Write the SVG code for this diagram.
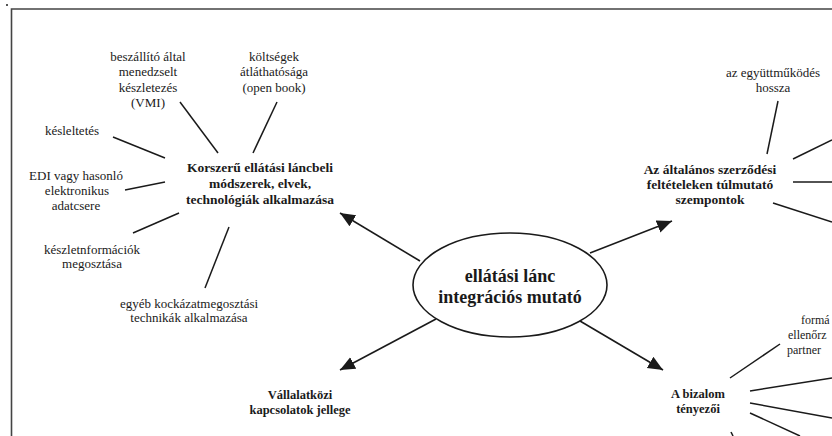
<svg xmlns="http://www.w3.org/2000/svg" width="832" height="436" viewBox="0 0 832 436" font-family="'Liberation Serif', 'Times New Roman', 'DejaVu Serif', serif">
<style>
text{font-family:'Liberation Serif','Times New Roman','DejaVu Serif',serif;fill:#1a1a1a;text-anchor:middle}
.s{font-size:13px}
.p{font-size:12px}
.b{font-size:13.5px;font-weight:bold}
.b2{font-size:12.5px;font-weight:bold}
.c{font-size:18px;font-weight:bold}
.ln{stroke:#1a1a1a;stroke-width:1.5;fill:none}
.ar{stroke:#1a1a1a;stroke-width:1.6;fill:none;marker-end:url(#ah)}
.st{text-anchor:start}
</style>
<defs>
<marker id="ah" markerUnits="userSpaceOnUse" markerWidth="16" markerHeight="14" refX="15" refY="6.5" orient="auto">
<path d="M0,0 L15,6.5 L0,13 Z" fill="#1a1a1a"/>
</marker>
</defs>
<rect width="832" height="436" fill="#fff"/>
<rect x="6" y="4" width="2" height="2" fill="#555"/>
<path d="M11.5,436 V9 H832" fill="none" stroke="#444" stroke-width="1.6"/>

<g id="connectors">
<line class="ar" x1="420" y1="261" x2="340" y2="213"/>
<line class="ar" x1="436" y1="319" x2="340" y2="370"/>
<line class="ar" x1="590" y1="253" x2="672" y2="221"/>
<line class="ar" x1="580" y1="321" x2="663" y2="370"/>
<line class="ln" x1="180" y1="102" x2="218" y2="153"/>
<line class="ln" x1="277" y1="102" x2="253" y2="153"/>
<line class="ln" x1="113" y1="137" x2="165" y2="158"/>
<line class="ln" x1="125" y1="190" x2="165" y2="182"/>
<line class="ln" x1="133" y1="233" x2="179" y2="213"/>
<line class="ln" x1="205" y1="288" x2="229" y2="227"/>
<line class="ln" x1="778" y1="101" x2="767" y2="154"/>
<line class="ln" x1="793" y1="159" x2="832" y2="140"/>
<line class="ln" x1="793" y1="182" x2="832" y2="182"/>
<line class="ln" x1="773" y1="203" x2="832" y2="222"/>
<line class="ln" x1="730" y1="378" x2="780" y2="344"/>
<line class="ln" x1="750" y1="391" x2="832" y2="378"/>
<line class="ln" x1="750" y1="403" x2="832" y2="418"/>
<line class="ln" x1="750" y1="413" x2="800" y2="436"/>
<line class="ln" x1="731" y1="432" x2="733" y2="436"/>
</g>

<g id="center">
<ellipse cx="510" cy="285" rx="97" ry="52" fill="#fff" stroke="#1a1a1a" stroke-width="1.6"/>
<text class="c" x="510" y="282">ellátási lánc</text>
<text class="c" x="510" y="303">integrációs mutató</text>
</g>

<g id="korszeru">
<text class="b" x="260" y="172">Korszerű ellátási láncbeli</text>
<text class="b" x="260" y="188">módszerek, elvek,</text>
<text class="b" x="260" y="204">technológiák alkalmazása</text>
</g>
<g id="vmi">
<text class="s" x="148" y="61">beszállító által</text>
<text class="s" x="148" y="76">menedzselt</text>
<text class="s" x="148" y="92">készletezés</text>
<text class="s" x="148" y="107">(VMI)</text>
</g>
<g id="koltsegek">
<text class="s" x="274" y="61">költségek</text>
<text class="s" x="274" y="76">átláthatósága</text>
<text class="s" x="274" y="92">(open book)</text>
</g>
<g id="keslelt">
<text class="s" x="72" y="135">késleltetés</text>
</g>
<g id="edi">
<text class="s" x="76" y="180">EDI vagy hasonló</text>
<text class="s" x="77" y="195">elektronikus</text>
<text class="s" x="76" y="210">adatcsere</text>
</g>
<g id="keszletinfo">
<text class="s" x="92" y="254">készletnformációk</text>
<text class="s" x="92" y="268">megosztása</text>
</g>
<g id="egyeb">
<text class="s" x="189" y="308">egyéb kockázatmegosztási</text>
<text class="s" x="189" y="322">technikák alkalmazása</text>
</g>

<g id="vallalatkozi">
<text class="b2" x="300" y="399">Vállalatközi</text>
<text class="b2" x="300" y="414">kapcsolatok jellege</text>
</g>

<g id="altalanos">
<text class="b" x="710" y="174">Az általános szerződési</text>
<text class="b" x="710" y="189">feltételeken túlmutató</text>
<text class="b" x="710" y="204">szempontok</text>
</g>
<g id="egyuttmukodes">
<text class="s" x="773" y="77">az együttműködés</text>
<text class="s" x="773" y="92">hossza</text>
</g>

<g id="bizalom">
<text class="b2" x="698" y="398">A bizalom</text>
<text class="b2" x="698" y="413">tényezői</text>
</g>
<g id="formalis">
<text class="p st" x="801" y="324">formá</text>
<text class="p st" x="788" y="339">ellenőrz</text>
<text class="p st" x="787" y="354">partner</text>
</g>
</svg>
